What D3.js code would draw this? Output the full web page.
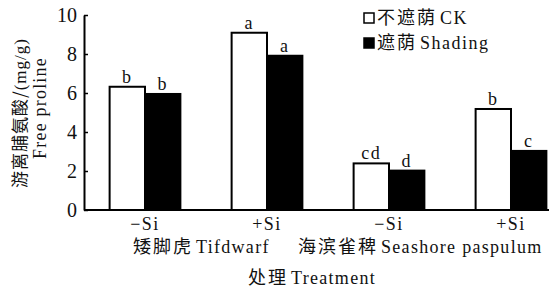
<!DOCTYPE html>
<html>
<head>
<meta charset="utf-8">
<script src="https://cdn.jsdelivr.net/npm/d3@7"></script>
<style>
  body { margin: 0; background: #fff; }
  text { font-family: "Liberation Serif", serif; fill: #111; }
  .cjk { font-family: "Noto Sans CJK SC", sans-serif; letter-spacing: 2px; }
</style>
</head>
<body>
<div id="chart"></div>
<script>
const width = 549;
const height = 292;

// data
const treatments = ["-Si", "+Si", "-Si ", "+Si "];
const tickLabels = ["\u2212Si", "+Si", "\u2212Si", "+Si"];
const series = ["CK", "Shading"];
const ckValues = [6.32, 9.09, 2.39, 5.18];
const shadingValues = [5.95, 7.91, 2.02, 3.03];
const ckLetters = ["b", "a", "cd", "b"];
const shadingLetters = ["b", "a", "d", "c"];
const yTicks = [0, 2, 4, 6, 8, 10];
const species = [["矮脚虎", "Tifdwarf"], ["海滨雀稗", "Seashore paspulum"]];
const legendLabels = [["不遮荫", "CK"], ["遮荫", "Shading"]];

const svg = d3.select("#chart")
  .append("svg")
  .attr("width", width)
  .attr("height", height);

const x0 = d3.scaleBand()
  .domain(treatments)
  .range([84, 572])
  .paddingInner(0.42)
  .paddingOuter(0.21);

const x1 = d3.scaleBand()
  .domain(series)
  .range([0, x0.bandwidth()]);

const y = d3.scaleLinear()
  .domain([0, 10])
  .range([210, 15]);

const rows = treatments.map((t, i) => ({
  t, i,
  vals: [
    {s: "CK", v: ckValues[i], l: ckLetters[i]},
    {s: "Shading", v: shadingValues[i], l: shadingLetters[i]}
  ]
}));

// mixed CJK + latin text
function mixed(sel, parts, latinSpacing) {
  sel.append("tspan").attr("class", "cjk").text(parts[0]);
  sel.append("tspan").attr("dx", 3).style("letter-spacing", latinSpacing).text(parts[1]);
}

// bars
const groups = svg.selectAll(".grp")
  .data(rows)
  .join("g")
  .attr("class", "grp")
  .attr("transform", d => `translate(${x0(d.t)},0)`);

groups.selectAll("rect")
  .data(d => d.vals)
  .join("rect")
  .attr("x", d => x1(d.s))
  .attr("y", d => y(d.v))
  .attr("width", x1.bandwidth())
  .attr("height", d => y(0) - y(d.v))
  .attr("fill", d => d.s === "CK" ? "#fff" : "#000")
  .attr("stroke", "#000")
  .attr("stroke-width", 2);

groups.selectAll(".lbl")
  .data(d => d.vals)
  .join("text")
  .attr("class", "lbl")
  .attr("x", d => x1(d.s) + x1.bandwidth() / 2)
  .attr("y", d => y(d.v) - 4)
  .attr("text-anchor", "middle")
  .style("font-size", "18px")
  .style("letter-spacing", "1.5px")
  .text(d => d.l);

// y axis
const yAxis = svg.append("g")
  .attr("transform", "translate(84,0)")
  .call(d3.axisLeft(y).tickValues(yTicks).tickSizeInner(-4).tickSizeOuter(0).tickPadding(7));
yAxis.select(".domain").attr("stroke-width", 2);
yAxis.selectAll(".tick line").attr("stroke-width", 1.5);
yAxis.selectAll(".tick text")
  .style("font-size", "20px")
  .style("font-family", "Liberation Serif")
  .attr("fill", "#111");

// x axis
const xAxis = svg.append("g")
  .attr("transform", `translate(0,${y(0)})`)
  .call(d3.axisBottom(x0).tickSize(0).tickPadding(7).tickFormat((d, i) => tickLabels[i]));
xAxis.select(".domain").attr("stroke-width", 2).attr("d", `M84,0H549`);
xAxis.selectAll(".tick text")
  .style("font-size", "18px")
  .style("font-family", "Liberation Serif")
  .style("letter-spacing", "1.5px")
  .attr("fill", "#111");

// species labels
const speciesX = [133, 298];
svg.selectAll(".species")
  .data(species)
  .join("text")
  .attr("class", "species")
  .attr("x", (d, i) => speciesX[i])
  .attr("y", 253)
  .style("font-size", "18px")
  .each(function(d) { mixed(d3.select(this), d, "1.3px"); });

svg.append("text")
  .attr("x", 248)
  .attr("y", 284)
  .style("font-size", "18px")
  .call(s => mixed(s, ["处理", "Treatment"], "1.3px"));

// y label
svg.append("text")
  .attr("class", "cjk")
  .attr("transform", "translate(26,113) rotate(-90)")
  .attr("text-anchor", "middle")
  .style("font-size", "17px")
  .style("letter-spacing", "1px")
  .text("游离脯氨酸/")
  .append("tspan")
  .style("font-family", "Liberation Serif")
  .style("font-size", "17px")
  .style("letter-spacing", "1px")
  .text("(mg/g)");
svg.append("text")
  .attr("transform", "translate(46,108) rotate(-90)")
  .attr("text-anchor", "middle")
  .style("font-size", "18px")
  .style("letter-spacing", "1.2px")
  .text("Free proline");

// legend
const legend = svg.selectAll(".legend")
  .data(legendLabels)
  .join("g")
  .attr("class", "legend")
  .attr("transform", (d, i) => `translate(364,${13 + i * 25})`);
legend.append("rect")
  .attr("width", 10)
  .attr("height", 10)
  .attr("fill", (d, i) => i === 0 ? "#fff" : "#000")
  .attr("stroke", "#000")
  .attr("stroke-width", 1.5);
legend.append("text")
  .attr("x", 13)
  .attr("y", 11)
  .style("font-size", "18px")
  .each(function(d) { mixed(d3.select(this), d, "1.5px"); });
</script>
</body>
</html>
